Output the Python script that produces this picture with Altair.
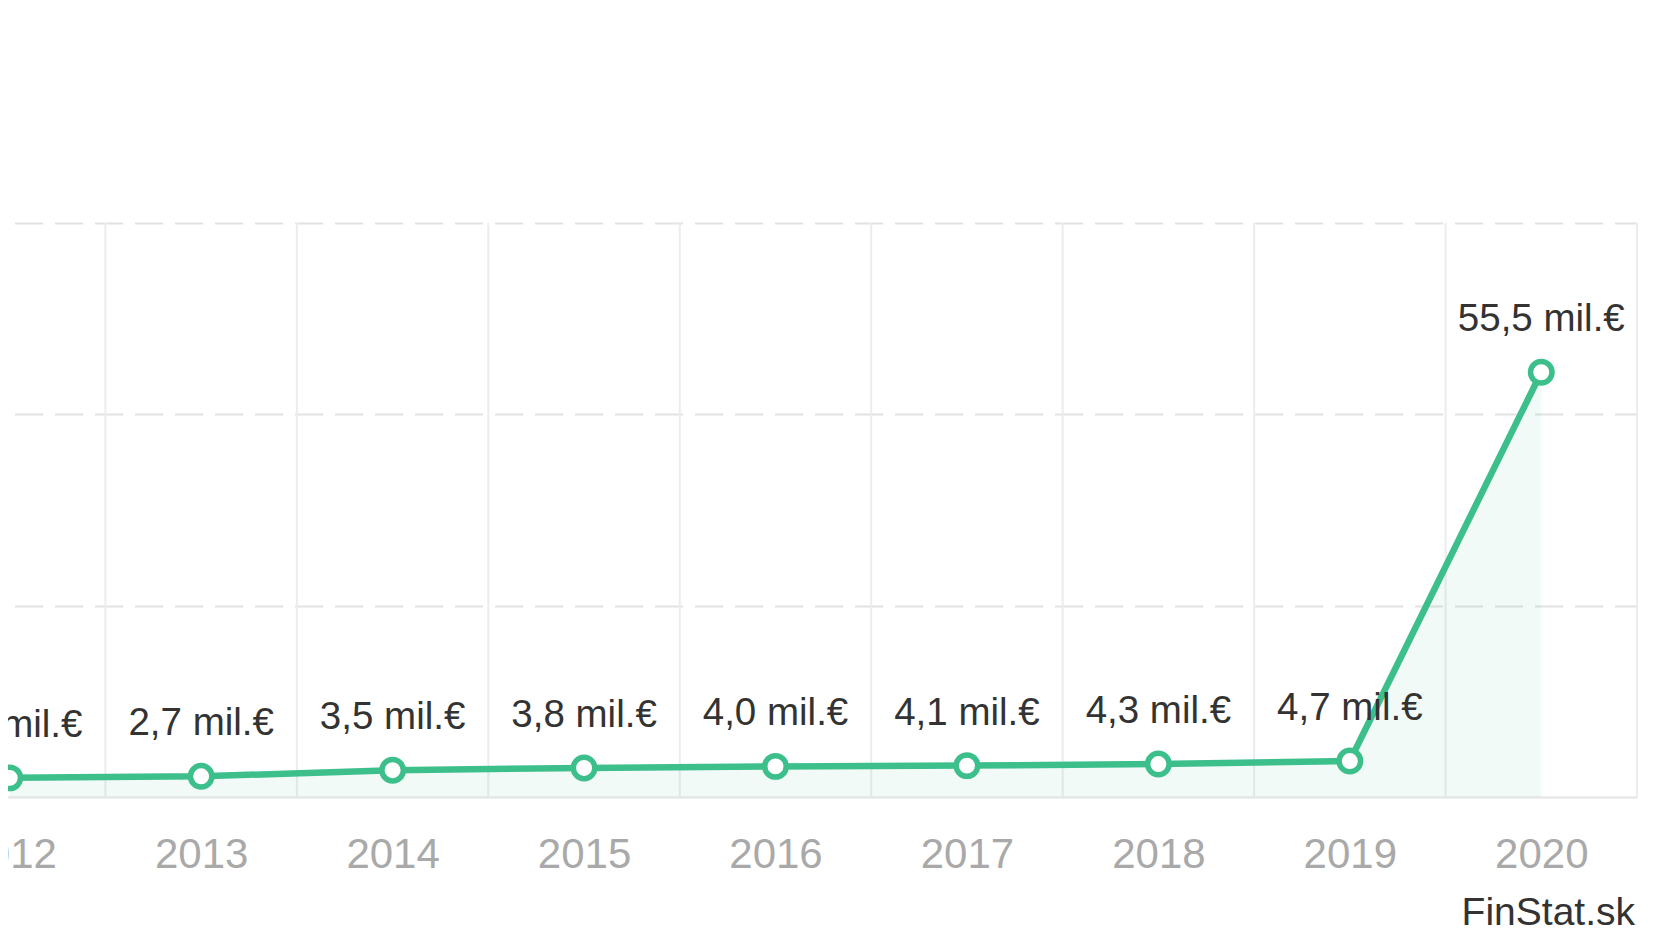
import altair as alt
import pandas as pd

# ---- data ----
years = [2012, 2013, 2014, 2015, 2016, 2017, 2018, 2019, 2020]
values = [2.5, 2.7, 3.5, 3.8, 4.0, 4.1, 4.3, 4.7, 55.5]
y_grid = [25, 50, 75]
y_max = 75
source_note = ["FinStat.sk"]

GREEN = "#3dbf8c"
FONT = "Liberation Sans"
W = 1723
H = 574

df = pd.DataFrame({"year": years, "value": values})
bounds = pd.DataFrame({"b": [y + 0.5 for y in years]})
note = pd.DataFrame({"t": source_note})

xscale = alt.Scale(domain=[years[0] - 0.5, years[-1] + 0.5], nice=False, zero=False)
yscale = alt.Scale(domain=[0, y_max], nice=False)

xaxis = alt.Axis(values=years, format="d", ticks=False, grid=False, domain=True,
                 domainColor="#e4e4e4", domainWidth=2, labelColor="#a9a9a9",
                 labelFontSize=42, labelPadding=37, labelFont=FONT, title=None)
yaxis = alt.Axis(values=y_grid, labels=False, ticks=False, domain=False, grid=True,
                 gridColor="#e2e2e2", gridWidth=2, gridDash=[28, 12],
                 gridDashOffset=19.4, title=None)

vlines = alt.Chart(bounds).mark_rule(color="#ececec", strokeWidth=2).encode(
    x=alt.X("b:Q", scale=xscale, axis=xaxis),
    y=alt.value(0), y2=alt.value(H),
)

base = alt.Chart(df).encode(
    x=alt.X("year:Q", scale=xscale, axis=xaxis),
    y=alt.Y("value:Q", scale=yscale, axis=yaxis),
)

area = base.mark_area(color=GREEN, opacity=0.07)
line = base.mark_line(color=GREEN, strokeWidth=6.5)
points = base.mark_point(shape="circle", filled=True, fill="white", stroke=GREEN,
                         strokeWidth=5.5, size=460, opacity=1)
labels = base.transform_calculate(
    label="replace(format(datum.value, '.1f'), '.', ',') + ' mil.€'"
).mark_text(dy=-41, baseline="alphabetic", fontSize=38.5, color="#333333", font=FONT).encode(
    text="label:N"
)

note_mark = alt.Chart(note).mark_text(
    align="right", baseline="alphabetic", fontSize=39, color="#333333", font=FONT
).encode(x=alt.value(W - 2), y=alt.value(H + 128), text="t:N")

chart = alt.layer(vlines, area, line, points, labels, note_mark).properties(
    width=W, height=H,
    padding={"left": -94, "top": 215, "right": 28, "bottom": 135},
    autosize=alt.AutoSizeParams(type="none"),
    background="white",
).configure_view(stroke=None)

chart.save("out.html", embed_options={"renderer": "svg", "actions": False})
